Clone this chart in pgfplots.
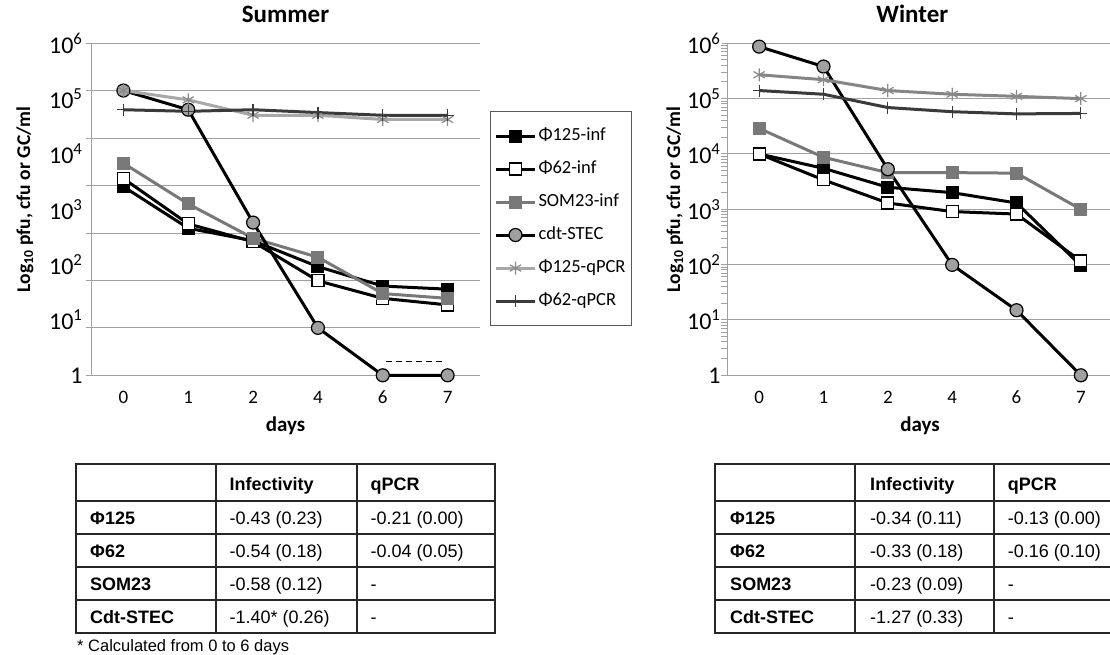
\documentclass[border=0pt]{standalone}
\usepackage{pgfplots}
\pgfplotsset{compat=1.18}
\usepackage{fontspec}
\setmainfont{Carlito}
\newfontfamily\arial{Liberation Sans}
\definecolor{gridc}{HTML}{A0A0A0}
\definecolor{somc}{HTML}{787878}
\definecolor{cdtc}{HTML}{A0A0A0}
\definecolor{qlight}{HTML}{A8A8A8}
\definecolor{qmid}{HTML}{858585}
\definecolor{qmark}{HTML}{8A8A8A}
\definecolor{qdark}{HTML}{3A3A3A}

\pgfplotsset{
  s1/.style={black, line width=3pt, mark=square*, mark size=6pt, mark options={solid, line width=1pt, fill=black, draw=black}},
  s2/.style={black, line width=3pt, mark=square*, mark size=6pt, mark options={solid, line width=1.2pt, fill=white, draw=black}},
  s3/.style={somc, line width=3pt, mark=square*, mark size=6pt, mark options={solid, line width=1pt, fill=somc, draw=somc}},
  s4/.style={black, line width=3pt, mark=*, mark size=6.5pt, mark options={solid, line width=1.2pt, fill=cdtc, draw=black}},
  s5/.style={line width=3pt, mark=asterisk, mark size=6.5pt, mark options={solid, line width=1.2pt, draw=qmark}},
  s6/.style={qdark, line width=3pt, mark=+, mark size=6pt, mark options={solid, line width=1.2pt, draw=qdark}},
}
\tikzset{tbl/.style={line width=2pt, black!85},
  th/.style={anchor=base west, font=\arial\bfseries\fontsize{18}{21}\selectfont},
  td/.style={anchor=base west, font=\arial\fontsize{18}{21}\selectfont}}

\begin{document}
\begin{tikzpicture}
\useasboundingbox (0pt,0pt) rectangle (1110pt,654pt);

% ---------------- Summer ----------------
\begin{axis}[at={(91pt,278.7pt)}, anchor=south west, width=389pt,
    scale only axis, height=332pt,
    xmin=-0.5, xmax=5.5, ymode=log, ymin=1, ymax=1e6,
    xtick={0,...,5}, xticklabels={0,1,2,4,6,7},
    minor xtick={-0.5,0.5,...,5.5},
    tick align=outside, major tick length=5pt, minor tick length=6pt,
    axis x line*=bottom, axis y line*=left,
    axis line style={gridc, line width=1pt},
    minor tick style={gridc, line width=1pt},
    xtick style={draw=none},
    ytick style={gridc, line width=1pt},
    ymajorgrids, major grid style={gridc, line width=1pt},
    xticklabel style={font=\fontsize{19}{22}\selectfont, yshift=-7pt},
    yticklabel style={font=\fontsize{24}{28}\selectfont, xshift=-5pt},
    label style={font=\bfseries\fontsize{19.5}{23}\selectfont},
    title style={font=\bfseries\fontsize{25}{29}\selectfont},
    xlabel={days},
    xlabel style={font=\bfseries\fontsize{21}{24}\selectfont},
    ylabel={Log\textsubscript{10} pfu, cfu or GC/ml},
    xlabel style={at={(axis description cs:0.5,-0.153)}, anchor=center},
    clip=false,
  title={Summer}, title style={at={(axis description cs:0.5,1.07)}, anchor=center},
  ylabel style={at={(axis description cs:-0.17,0.53)}, anchor=center},
  ytick={1,7.19686,51.7947,372.759,2682.70,19306.98,138949.5,1000000},
  yticklabels={,,,,,,,},
  extra y ticks={1,10,100,1000,10000,100000,1000000},
  extra y tick labels={1,10\textsuperscript{1},10\textsuperscript{2},10\textsuperscript{3},10\textsuperscript{4},10\textsuperscript{5},10\textsuperscript{6}},
  extra y tick style={grid=none, major tick length=0pt},
  legend image code/.code={\draw[mark repeat=2,mark phase=2,#1] plot coordinates {(0pt,0pt)(19.5pt,0pt)(39pt,0pt)};},
  legend cell align=left,
  legend style={at={(1.0257,0.796)}, anchor=north west, draw=gray!70!black, line width=1pt,
    font=\fontsize{18.5}{21}\selectfont, inner xsep=4pt, inner ysep=14pt, row sep=12pt,
    nodes={inner sep=2pt, text height=13pt, text depth=4pt}},
]
\addplot[s1] coordinates {(0,2570) (1,455) (2,270) (3,92) (4,41) (5,36)};
\addlegendentry{Φ125-inf}
\addplot[s2] coordinates {(0,3600) (1,545) (2,260) (3,51) (4,24.6) (5,18.7)};
\addlegendentry{Φ62-inf}
\addplot[s3] coordinates {(0,6800) (1,1250) (2,300) (3,136) (4,30) (5,24.6)};
\addlegendentry{SOM23-inf}
\addplot[s4] coordinates {(0,140000) (1,63000) (2,575) (3,7.2) (4,1) (5,1)};
\addlegendentry{cdt-STEC}
\addplot[s5, qlight] coordinates {(0,140000) (1,95000) (2,50000) (3,50000) (4,42000) (5,42000)};
\addlegendentry{Φ125-qPCR}
\addplot[s6] coordinates {(0,63000) (1,59000) (2,63000) (3,56000) (4,50000) (5,50000)};
\addlegendentry{Φ62-qPCR}
\addplot[forget plot, black, line width=1pt, dash pattern=on 6pt off 4pt] coordinates {(4.05,1.77) (4.95,1.77)};
\end{axis}

% ---------------- Winter ----------------
\begin{axis}[at={(727pt,278.7pt)}, anchor=south west, width=386pt,
    scale only axis, height=332pt,
    xmin=-0.5, xmax=5.5, ymode=log, ymin=1, ymax=1e6,
    xtick={0,...,5}, xticklabels={0,1,2,4,6,7},
    minor xtick={-0.5,0.5,...,5.5},
    tick align=outside, major tick length=5pt, minor tick length=6pt,
    axis x line*=bottom, axis y line*=left,
    axis line style={gridc, line width=1pt},
    minor tick style={gridc, line width=1pt},
    xtick style={draw=none},
    ytick style={gridc, line width=1pt},
    ymajorgrids, major grid style={gridc, line width=1pt},
    xticklabel style={font=\fontsize{19}{22}\selectfont, yshift=-7pt},
    yticklabel style={font=\fontsize{24}{28}\selectfont, xshift=2pt},
    label style={font=\bfseries\fontsize{19.5}{23}\selectfont},
    title style={font=\bfseries\fontsize{25}{29}\selectfont},
    xlabel={days},
    xlabel style={font=\bfseries\fontsize{21}{24}\selectfont},
    ylabel={Log\textsubscript{10} pfu, cfu or GC/ml},
    xlabel style={at={(axis description cs:0.5,-0.153)}, anchor=center},
    clip=false,
  title={Winter}, title style={at={(axis description cs:0.48,1.07)}, anchor=center},
  ylabel style={at={(axis description cs:-0.135,0.53)}, anchor=center},
  ytick={1,10,100,1000,10000,100000,1000000},
  yticklabels={1,10\textsuperscript{1},10\textsuperscript{2},10\textsuperscript{3},10\textsuperscript{4},10\textsuperscript{5},10\textsuperscript{6}},
]
\addplot[s1] coordinates {(0,10000) (1,5500) (2,2500) (3,2000) (4,1300) (5,96)};
\addplot[s2] coordinates {(0,10000) (1,3400) (2,1300) (3,910) (4,820) (5,116)};
\addplot[s3] coordinates {(0,29000) (1,8700) (2,4600) (3,4600) (4,4500) (5,1000)};
\addplot[s4] coordinates {(0,870000) (1,380000) (2,5300) (3,99) (4,15) (5,1)};
\addplot[s5, qmid] coordinates {(0,270000) (1,220000) (2,140000) (3,120000) (4,110000) (5,100000)};
\addplot[s6] coordinates {(0,140000) (1,120000) (2,69000) (3,58000) (4,53000) (5,54000)};
\end{axis}

% ---------------- Summer table ----------------
\draw[tbl] (75.7pt,190pt) rectangle (495pt,21pt);
\foreach \yy in {153,120,87,54} \draw[tbl] (75.7pt,\yy pt) -- (495pt,\yy pt);
\foreach \xx in {216,357} \draw[tbl] (\xx pt,190pt) -- (\xx pt,21pt);
\node[th] at (226pt,164pt) {Infectivity};
\node[th] at (367pt,164pt) {qPCR};
\node[th] at (86.7pt,130pt) {Φ125};
\node[th] at (86.7pt,97pt) {Φ62};
\node[th] at (86.7pt,64pt) {SOM23};
\node[th] at (86.7pt,31pt) {Cdt-STEC};
\node[td] at (226pt,130pt) {-0.43 (0.23)};
\node[td] at (226pt,97pt) {-0.54 (0.18)};
\node[td] at (226pt,64pt) {-0.58 (0.12)};
\node[td] at (226pt,31pt) {-1.40* (0.26)};
\node[td] at (367pt,130pt) {-0.21 (0.00)};
\node[td] at (367pt,97pt) {-0.04 (0.05)};
\node[td] at (367pt,64pt) {-};
\node[td] at (367pt,31pt) {-};
\node[anchor=base west, font=\arial\fontsize{16.5}{19}\selectfont, inner sep=0pt] at (77pt,3pt) {* Calculated from 0 to 6 days};

% ---------------- Winter table ----------------
\draw[tbl] (715pt,190pt) rectangle (1134pt,21pt);
\foreach \yy in {153,120,87,54} \draw[tbl] (715pt,\yy pt) -- (1134pt,\yy pt);
\foreach \xx in {855,994} \draw[tbl] (\xx pt,190pt) -- (\xx pt,21pt);
\node[th] at (866.7pt,164pt) {Infectivity};
\node[th] at (1004.3pt,164pt) {qPCR};
\node[th] at (726.7pt,130pt) {Φ125};
\node[th] at (726.7pt,97pt) {Φ62};
\node[th] at (726.7pt,64pt) {SOM23};
\node[th] at (726.7pt,31pt) {Cdt-STEC};
\node[td] at (866.7pt,130pt) {-0.34 (0.11)};
\node[td] at (866.7pt,97pt) {-0.33 (0.18)};
\node[td] at (866.7pt,64pt) {-0.23 (0.09)};
\node[td] at (866.7pt,31pt) {-1.27 (0.33)};
\node[td] at (1004.3pt,130pt) {-0.13 (0.00)};
\node[td] at (1004.3pt,97pt) {-0.16 (0.10)};
\node[td] at (1004.3pt,64pt) {-};
\node[td] at (1004.3pt,31pt) {-};
\end{tikzpicture}
\end{document}
